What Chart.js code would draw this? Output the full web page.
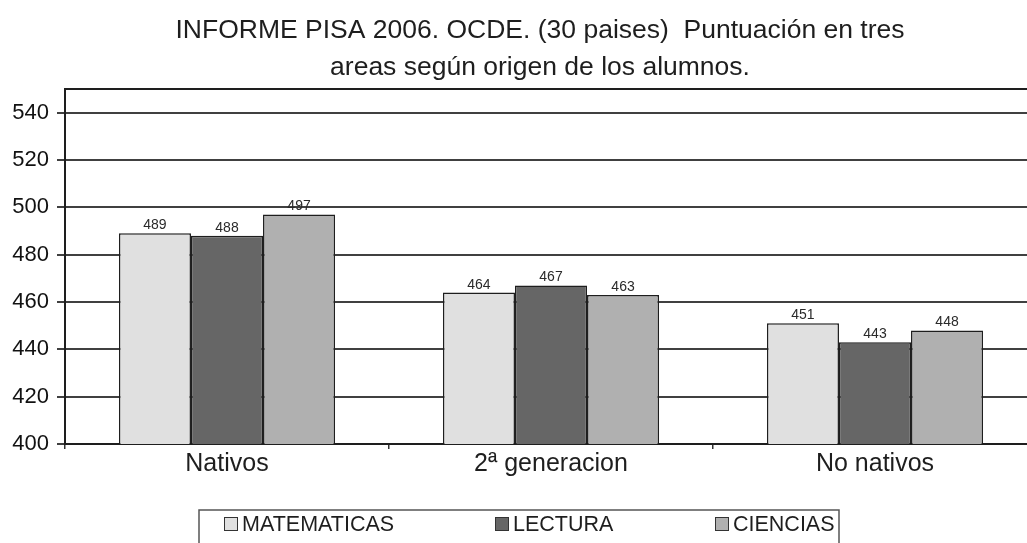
<!DOCTYPE html>
<html>
<head>
<meta charset="utf-8">
<script src="https://cdn.jsdelivr.net/npm/chart.js@4.4.0/dist/chart.umd.min.js"></script>
<style>
    body { margin: 0; background: #fff; overflow: hidden; }
    #wrap { width: 1040px; height: 560px; }
</style>
</head>
<body>
<div id="wrap"><canvas id="pisaChart"></canvas></div>
<script>
// datos del gráfico
const titleLines = ['INFORME PISA 2006. OCDE. (30 paises)  Puntuación en tres', 'areas según origen de los alumnos.'];
const origins = ['Nativos', '2ª generacion', 'No nativos'];
const areaNames = ['MATEMATICAS', 'LECTURA', 'CIENCIAS'];
const matematicas = [489, 464, 451];
const lectura = [488, 467, 443];
const ciencias = [497, 463, 448];
const yTicks = [400, 420, 440, 460, 480, 500, 520, 540];
const yMin = 400;
const yMax = 550;

const FONT = '"Liberation Sans", Arial, sans-serif';
const INK = '#1e1e1e';

// título en dos líneas
const titlePlugin = {
    id: 'titleLines',
    afterDraw(chart) {
        const ctx = chart.ctx;
        ctx.save();
        ctx.font = '26.5px ' + FONT;
        ctx.fillStyle = INK;
        ctx.textAlign = 'center';
        ctx.textBaseline = 'alphabetic';
        ctx.fillText(titleLines[0], 540, 38);
        ctx.fillText(titleLines[1], 540, 75);
        ctx.restore();
    }
};

// línea superior del marco
const framePlugin = {
    id: 'frameTop',
    beforeDatasetsDraw(chart) {
        const { ctx, chartArea } = chart;
        ctx.save();
        ctx.strokeStyle = INK;
        ctx.lineWidth = 2;
        ctx.beginPath();
        ctx.moveTo(chartArea.left, chartArea.top);
        ctx.lineTo(chartArea.right, chartArea.top);
        ctx.stroke();
        ctx.restore();
    }
};

// valores encima de las barras
const valueLabels = {
    id: 'valueLabels',
    afterDatasetsDraw(chart) {
        const ctx = chart.ctx;
        ctx.save();
        ctx.font = '14px ' + FONT;
        ctx.fillStyle = '#2a2a2a';
        ctx.textAlign = 'center';
        ctx.textBaseline = 'alphabetic';
        chart.data.datasets.forEach((ds, i) => {
            chart.getDatasetMeta(i).data.forEach((bar, j) => {
                ctx.fillText(ds.data[j], bar.x, bar.y - 4);
            });
        });
        ctx.restore();
    }
};

// leyenda con recuadro
const boxLegend = {
    id: 'boxLegend',
    afterDraw(chart) {
        const ctx = chart.ctx;
        const xs = [224, 495, 715];
        ctx.save();
        ctx.strokeStyle = '#555';
        ctx.lineWidth = 1.5;
        ctx.strokeRect(199, 510, 640, 60);
        ctx.textBaseline = 'middle';
        ctx.textAlign = 'left';
        ctx.font = '21.5px ' + FONT;
        chart.data.datasets.forEach((ds, i) => {
            ctx.fillStyle = ds.backgroundColor;
            ctx.fillRect(xs[i], 517, 14, 14);
            ctx.strokeStyle = '#333';
            ctx.lineWidth = 1;
            ctx.strokeRect(xs[i] + 0.5, 517.5, 13, 13);
            ctx.fillStyle = INK;
            ctx.fillText(ds.label, xs[i] + 18, 525);
        });
        ctx.restore();
    }
};

const ctx = document.getElementById('pisaChart').getContext('2d');

new Chart(ctx, {
    type: 'bar',
    data: {
        labels: origins,
        datasets: [
            { label: areaNames[0], data: matematicas, backgroundColor: '#e0e0e0' },
            { label: areaNames[1], data: lectura, backgroundColor: '#666666' },
            { label: areaNames[2], data: ciencias, backgroundColor: '#b0b0b0' }
        ]
    },
    options: {
        responsive: true,
        maintainAspectRatio: false,
        animation: false,
        devicePixelRatio: 1,
        layout: { padding: { top: 89, right: 3, bottom: 76, left: 0 } },
        datasets: {
            bar: {
                categoryPercentage: 0.667,
                barPercentage: 1,
                borderColor: INK,
                borderWidth: 1.5
            }
        },
        plugins: {
            legend: { display: false },
            title: { display: false },
            tooltip: { enabled: false }
        },
        scales: {
            x: {
                grid: { drawOnChartArea: false, drawTicks: true, tickLength: 5, color: '#333', lineWidth: 1.5 },
                border: { color: INK, width: 2 },
                ticks: { font: { family: FONT, size: 25 }, color: INK, padding: 0 },
                afterFit(scale) { scale.height = 40; }
            },
            y: {
                min: yMin,
                max: yMax,
                afterBuildTicks(scale) { scale.ticks = yTicks.map(v => ({ value: v })); },
                grid: { color: '#404040', lineWidth: 2, tickLength: 8, tickColor: '#404040' },
                border: { color: INK, width: 2 },
                ticks: { font: { family: FONT, size: 22 }, color: '#111', padding: 8 },
                afterFit(scale) { scale.width = 65; }
            }
        }
    },
    plugins: [titlePlugin, framePlugin, valueLabels, boxLegend]
});
</script>
</body>
</html>
